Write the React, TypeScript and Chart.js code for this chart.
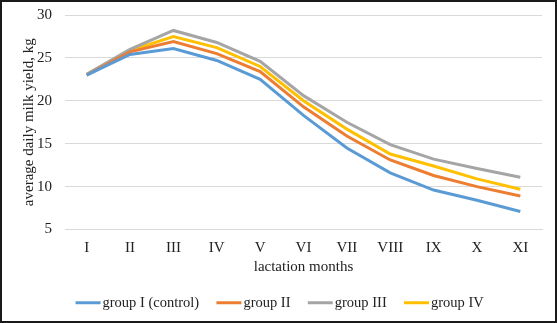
import React, { useEffect, useRef } from "react";
import { Chart, registerables } from "chart.js";

Chart.register(...registerables);

const months = ["I", "II", "III", "IV", "V", "VI", "VII", "VIII", "IX", "X", "XI"];
const group1 = [23.0, 25.4, 26.1, 24.7, 22.5, 18.3, 14.5, 11.6, 9.6, 8.4, 7.1];
const group2 = [23.0, 25.7, 26.9, 25.5, 23.4, 19.3, 15.9, 13.1, 11.3, 10.0, 8.9];
const group3 = [23.1, 26.0, 28.2, 26.8, 24.6, 20.6, 17.5, 14.9, 13.2, 12.1, 11.1];
const group4 = [23.1, 25.85, 27.5, 26.2, 24.0, 20.0, 16.7, 13.8, 12.4, 10.9, 9.7];
const seriesNames = ["group I (control)", "group II", "group III", "group IV"];
const seriesColors = ["#5B9BD5", "#ED7D31", "#A5A5A5", "#FFC000"];
const yTicks = [5, 10, 15, 20, 25, 30];

const FONT = "'Liberation Serif', serif";
const LEGEND_FONT = 14.5;
const LEGEND_BOX = 27;

const borderPlugin = {
  id: "outerBorder",
  afterDraw(chart: any) {
    const ctx = chart.ctx;
    ctx.save();
    ctx.strokeStyle = "#1a1a1a";
    ctx.lineWidth = 2;
    ctx.strokeRect(1, 1, chart.width - 2, chart.height - 2);
    ctx.restore();
  },
};

// draws the legend line samples right next to the legend texts
const legendLinePlugin = {
  id: "legendLines",
  afterDraw(chart: any) {
    const legend = chart.legend;
    if (!legend || !legend.legendHitBoxes) return;
    const ctx = chart.ctx;
    ctx.save();
    legend.legendHitBoxes.forEach((box: any, i: number) => {
      const textStart = box.left + LEGEND_BOX + LEGEND_FONT / 2;
      const end = textStart - 2;
      const start = end - 25;
      const y = box.top + box.height / 2;
      ctx.strokeStyle = seriesColors[i];
      ctx.lineWidth = 3;
      ctx.beginPath();
      ctx.moveTo(start, y);
      ctx.lineTo(end, y);
      ctx.stroke();
    });
    ctx.restore();
  },
};

export default function App() {
  const ref = useRef<HTMLCanvasElement | null>(null);
  useEffect(() => {
    document.body.style.margin = "0";
    const data = [group1, group2, group3, group4];
    const chart = new Chart(ref.current as HTMLCanvasElement, {
      type: "line",
      data: {
        labels: months,
        datasets: data.map((d, i) => ({
          label: seriesNames[i],
          data: d,
          borderColor: seriesColors[i],
          backgroundColor: seriesColors[i],
          borderWidth: 3,
          pointRadius: 0,
          tension: 0,
        })),
      },
      options: {
        animation: false,
        responsive: false,
        layout: { padding: { left: 10, right: 15, top: 15, bottom: 3 } },
        plugins: {
          legend: {
            position: "bottom",
            labels: {
              color: "#222",
              font: { family: FONT, size: LEGEND_FONT },
              boxWidth: LEGEND_BOX,
              boxHeight: 3,
              padding: 10,
              generateLabels(chart: any) {
                return chart.data.datasets.map((ds: any, i: number) => ({
                  text: ds.label,
                  fillStyle: "rgba(0,0,0,0)",
                  strokeStyle: "rgba(0,0,0,0)",
                  lineWidth: 0,
                  fontColor: "#222",
                  hidden: false,
                  datasetIndex: i,
                }));
              },
            },
          },
          tooltip: { enabled: false },
        },
        scales: {
          x: {
            offset: true,
            grid: { display: false },
            border: { display: true, color: "#D9D9D9" },
            ticks: {
              color: "#222",
              font: { family: FONT, size: 15 },
              padding: 2,
              maxRotation: 0,
            },
            title: {
              display: true,
              text: "lactation months",
              color: "#222",
              font: { family: FONT, size: 15 },
              padding: { top: 2, bottom: 9 },
            },
            afterFit(scale: any) {
              scale.height = 56;
            },
          },
          y: {
            min: 5,
            max: 30,
            afterBuildTicks(scale: any) {
              scale.ticks = yTicks.map((v) => ({ value: v }));
            },
            grid: {
              color: "#D9D9D9",
              lineWidth: 1,
              drawTicks: true,
              tickLength: 13,
              tickColor: "rgba(0,0,0,0)",
            },
            border: { display: false },
            ticks: {
              color: "#222",
              font: { family: FONT, size: 15 },
              padding: 0,
            },
            title: {
              display: true,
              text: "average daily milk yield, kg",
              color: "#222",
              font: { family: FONT, size: 15 },
              padding: { top: 10, bottom: 0 },
            },
            afterFit(scale: any) {
              scale.width = 55;
            },
          },
        },
      },
      plugins: [borderPlugin, legendLinePlugin],
    });
    return () => chart.destroy();
  }, []);
  return <canvas ref={ref} width={557} height={323} style={{ display: "block" }} />;
}
